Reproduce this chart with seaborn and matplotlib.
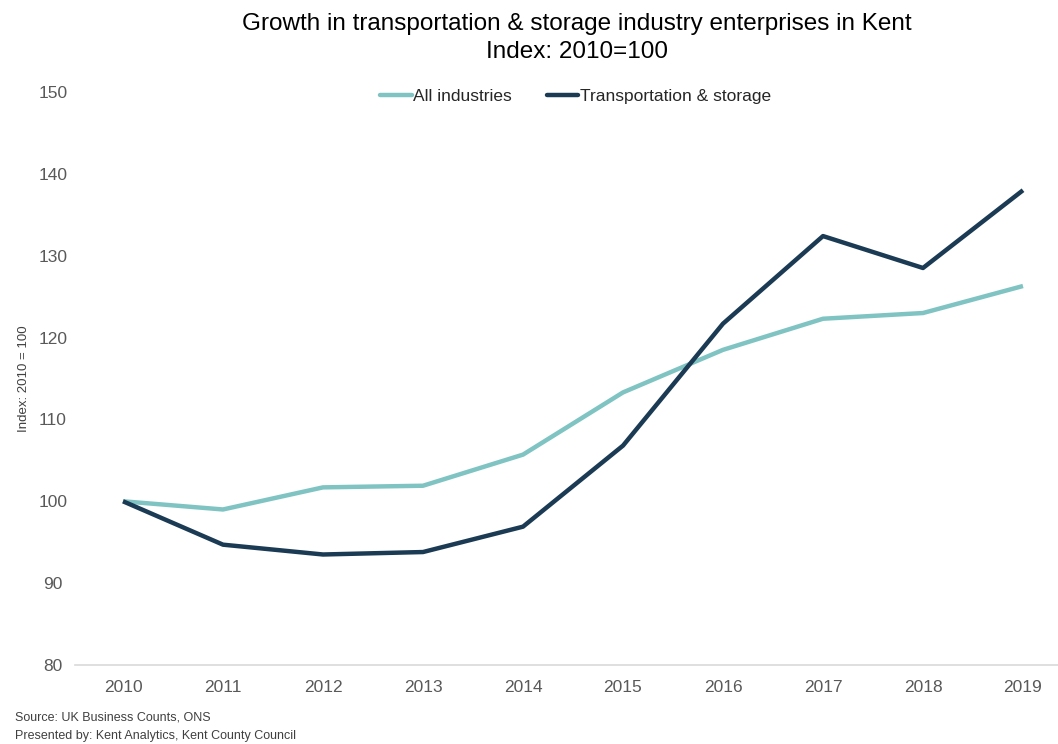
import matplotlib
matplotlib.use("Agg")
import matplotlib.pyplot as plt
import seaborn as sns
import pandas as pd

years = ["2010", "2011", "2012", "2013", "2014", "2015", "2016", "2017", "2018", "2019"]
all_industries = [100.0, 99.0, 101.7, 101.9, 105.7, 113.3, 118.5, 122.3, 123.0, 126.3]
transport_storage = [100.0, 94.7, 93.5, 93.8, 96.9, 106.8, 121.7, 132.4, 128.5, 138.0]
series_names = ["All industries", "Transportation & storage"]
series_colors = ["#7FC4C2", "#1B3A54"]
y_ticks = [80, 90, 100, 110, 120, 130, 140, 150]

sns.set_theme(style="white")
plt.rcParams["font.family"] = ["Liberation Sans", "DejaVu Sans"]

df = pd.DataFrame({
    "year": years * 2,
    "pos": list(range(len(years))) * 2,
    "value": all_industries + transport_storage,
    "series": [series_names[0]] * len(years) + [series_names[1]] * len(years),
})

fig = plt.figure(figsize=(10.58, 7.44), dpi=100)
ax = fig.add_axes([75 / 1058, 1 - 665 / 744, 1 - 75 / 1058, (665 - 92) / 744])

sns.lineplot(data=df, x="pos", y="value", hue="series", hue_order=series_names,
             palette=series_colors, linewidth=3.2, ax=ax, legend=False,
             solid_capstyle="butt")

ax.set_xlim(-0.48, 9.35)
ax.set_ylim(80, 150)
ax.set_xticks(range(len(years)))
ax.set_xticklabels(years)
ax.set_yticks(y_ticks)
ax.tick_params(axis="both", length=0, labelsize=12.5, labelcolor="#595959")
ax.tick_params(axis="x", pad=11)
ax.tick_params(axis="y", pad=16)
for lab in ax.get_yticklabels():
    lab.set_horizontalalignment("center")

for side in ["top", "right", "left"]:
    ax.spines[side].set_visible(False)
ax.spines["bottom"].set_color("#D9D9D9")
ax.spines["bottom"].set_linewidth(1.2)

ax.set_xlabel("")
ax.set_ylabel("Index: 2010 = 100", fontsize=9.5, color="#404040")
ax.yaxis.set_label_coords(-0.046, 0.5)

fig.text(0.545, 0.983, "Growth in transportation & storage industry enterprises in Kent\nIndex: 2010=100",
         ha="center", va="top", fontsize=17.5, color="#000000", linespacing=1.35)

handles = [plt.Line2D([], [], color=c, linewidth=3.2) for c in series_colors]
fig.legend(handles, series_names, loc="center", bbox_to_anchor=(0.544, 1 - 96 / 744),
           ncol=2, frameon=False, fontsize=12.5, handlelength=1.8, handletextpad=0.1,
           columnspacing=2.0, labelcolor="#262626")

fig.text(15 / 1058, 1 - 718 / 744, "Source: UK Business Counts, ONS", fontsize=9,
         color="#404040", va="center")
fig.text(15 / 1058, 1 - 736 / 744, "Presented by: Kent Analytics, Kent County Council",
         fontsize=9, color="#404040", va="center")

fig.savefig("out.png", dpi=100, facecolor="white")
